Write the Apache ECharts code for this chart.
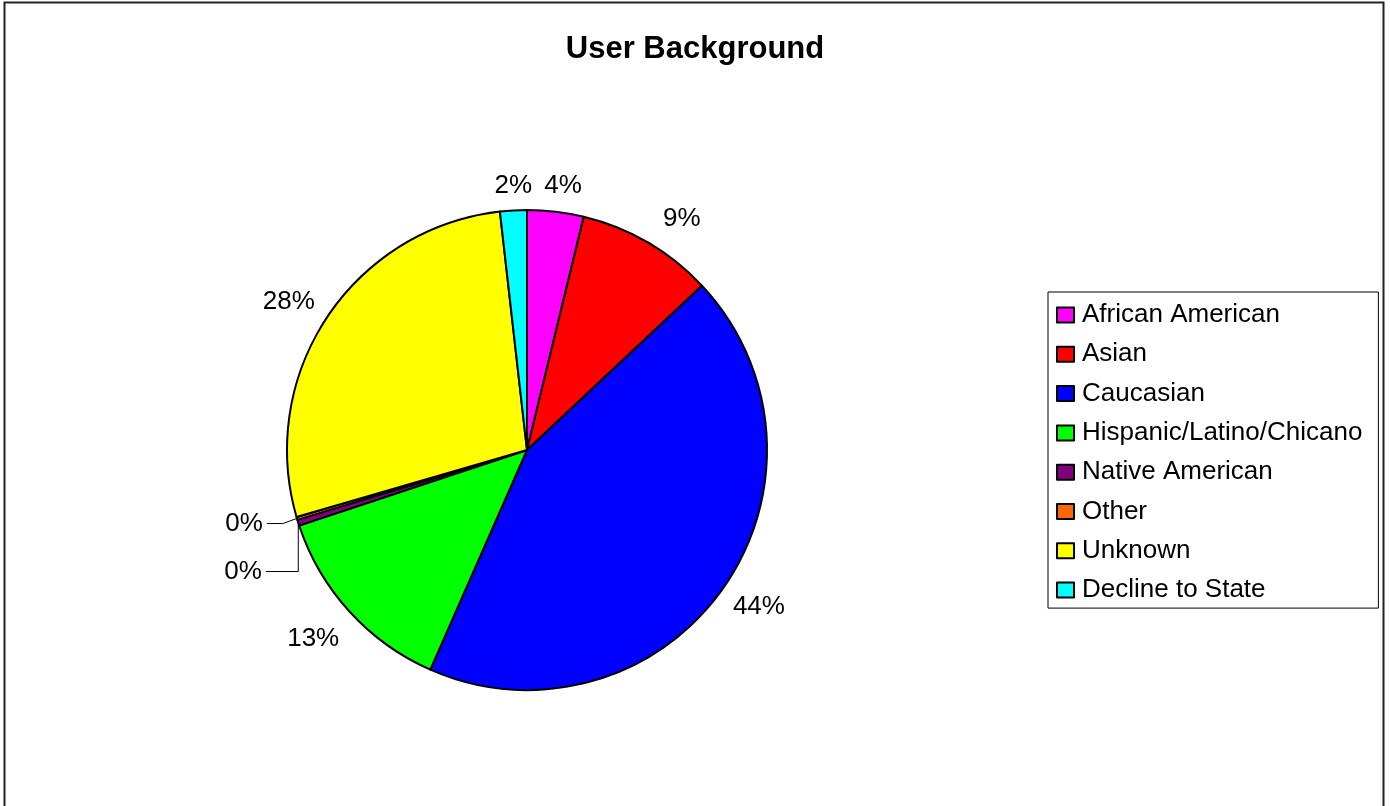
<!DOCTYPE html>
<html>
<head>
<meta charset="utf-8">
<style>
html,body{margin:0;padding:0;background:#fff;}
#chart{width:1390px;height:806px;}
</style>
<script src="https://cdn.jsdelivr.net/npm/echarts@6/dist/echarts.min.js"></script>
</head>
<body>
<div id="chart"></div>
<script>
const categories = ['African American','Asian','Caucasian','Hispanic/Latino/Chicano','Native American','Other','Unknown','Decline to State'];
const values = [3.8, 9.2, 43.6, 13.3, 0.4, 0.2, 27.7, 1.8];
const colors = ['#FF00FF','#FF0000','#0000FF','#00FF00','#800080','#FF6600','#FFFF00','#00FFFF'];

const FONT = '"Liberation Sans", Arial, sans-serif';
const chart = echarts.init(document.getElementById('chart'));
const data = categories.map((name, i) => {
  const small = values[i] < 0.5;
  return {
    name: name,
    value: values[i],
    itemStyle: { color: colors[i] },
    label: small ? { lineHeight: 46 } : {},
    labelLine: small ? { show: true, length: 18, length2: (i === 4 ? 35 : 16) } : { show: false }
  };
});

// small nudges so labels sit where the original chart put them
const labelNudge = { 0: [-18, -4], 1: [0, -5], 2: [-12, 6], 3: [10, 12], 6: [6, -3], 7: [24, -3] };

chart.setOption({
  backgroundColor: '#fff',
  animation: false,
  graphic: [{
    type: 'rect',
    shape: { x: 4.5, y: 2.5, width: 1379, height: 810 },
    style: { fill: 'none', stroke: '#222', lineWidth: 2 },
    silent: true
  }],
  title: {
    text: 'User Background',
    left: 'center',
    top: 29,
    textStyle: { fontFamily: FONT, fontSize: 31, fontWeight: 'bold', color: '#000' }
  },
  legend: {
    orient: 'vertical',
    left: 1048,
    top: 292,
    data: categories,
    icon: 'rect',
    itemWidth: 17,
    itemHeight: 15,
    itemGap: 13.3,
    padding: [10, 16, 5, 8],
    borderColor: '#000',
    borderWidth: 1,
    selectedMode: false,
    textStyle: { fontFamily: FONT, fontSize: 26, lineHeight: 25, color: '#000', padding: [0, 0, 0, 3] }
  },
  series: [{
    type: 'pie',
    center: [527, 450],
    radius: 240,
    startAngle: 90,
    clockwise: true,
    avoidLabelOverlap: true,
    itemStyle: { borderColor: '#000', borderWidth: 2 },
    label: {
      show: true,
      position: 'outside',
      formatter: '{d}%',
      fontFamily: FONT,
      fontSize: 26,
      color: '#000',
      distanceToLabelLine: 4
    },
    percentPrecision: 0,
    labelLine: { show: false, length: 22, length2: 0, lineStyle: { color: '#000', width: 1 } },
    labelLayout: function (params) {
      const n = labelNudge[params.dataIndex];
      return n ? { dx: n[0], dy: n[1] } : {};
    },
    emphasis: { disabled: true },
    data: data
  }]
});
</script>
</body>
</html>
